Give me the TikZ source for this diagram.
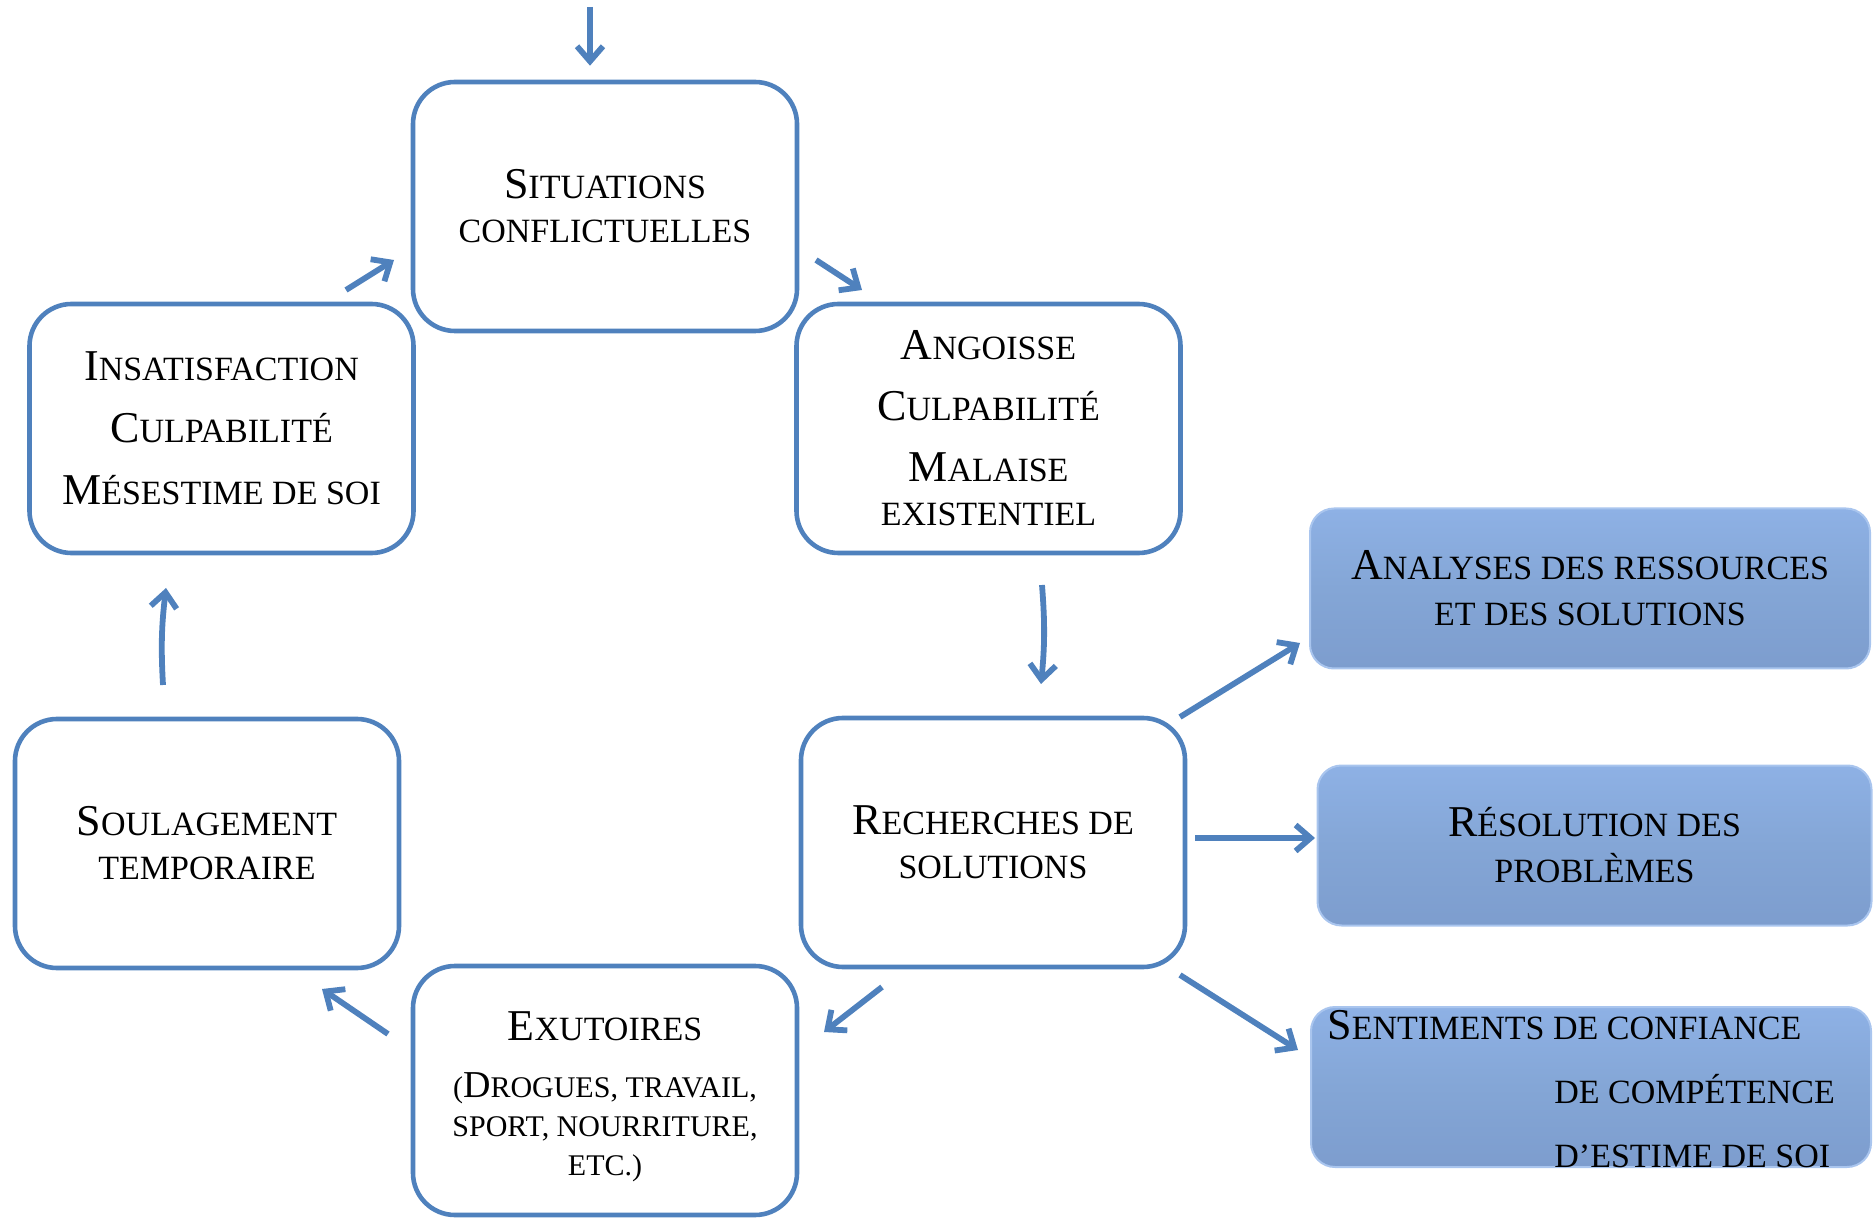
\documentclass[tikz,border=0pt]{standalone}
\usepackage{fontspec}
\setmainfont{Liberation Serif}
\usetikzlibrary{arrows.meta,calc}
\definecolor{ofblue}{HTML}{4F81BD}
\definecolor{bfill}{HTML}{84A6D6}
\definecolor{btop}{HTML}{8EB1E5}
\definecolor{bbot}{HTML}{7D9DCE}
\definecolor{bedge}{HTML}{A9C5EE}
\newcommand\Cap[1]{{\fontsize{22}{22}\selectfont #1}}
\newcommand\CapS[1]{{\fontsize{19}{19.5}\selectfont #1}}
\newcommand\Par[1]{{\fontsize{15}{19.5}\selectfont #1}}
\begin{document}
\begin{tikzpicture}[x=0.5pt,y=-0.5pt,
 wbox/.style={draw=ofblue, line width=2.3pt, fill=white, rounded corners=21pt,
   minimum width=192pt, minimum height=124.5pt, align=center,
   font=\fontsize{17}{22}\selectfont, inner sep=0pt},
 bbox/.style={draw=bedge, line width=1pt, top color=btop, bottom color=bbot, middle color=bfill,
   rounded corners=12pt, minimum width=280pt, minimum height=80pt, align=center,
   font=\fontsize{17}{23}\selectfont, inner sep=0pt},
 arr/.style={draw=ofblue, line width=2.9pt, -{Straight Barb[length=7.5pt,width=13pt]}}
]
\useasboundingbox (0,0) rectangle (1873,1218);

\node[wbox] (sit) at (605,206.5) {\Cap{S}ITUATIONS\\CONFLICTUELLES};
\node[wbox] (ang) at (988.5,428.5) {\Cap{A}NGOISSE\\[8.5pt]\Cap{C}ULPABILITÉ\\[8.5pt]\Cap{M}ALAISE\\EXISTENTIEL};
\node[wbox] (ins) at (221.5,428.5) {\Cap{I}NSATISFACTION\\[9pt]\Cap{C}ULPABILITÉ\\[9pt]\Cap{M}ÉSESTIME DE SOI};
\node[wbox] (soul) at (207,843.5) {\Cap{S}OULAGEMENT\\TEMPORAIRE};
\node[wbox] (rech) at (993,842.5) {\Cap{R}ECHERCHES DE\\SOLUTIONS};
\node[wbox] (exu) at (605,1090.5) {\rule{0pt}{20.5pt}\Cap{E}XUTOIRES\\[6.5pt]\Par{(\CapS{D}ROGUES, TRAVAIL,}\\[-2.5pt]\Par{SPORT, NOURRITURE,}\\[-2.5pt]\Par{ETC.)}};

\node[bbox] (ana) at (1590,588.5) {\Cap{A}NALYSES DES RESSOURCES\\ET DES SOLUTIONS};
\node[bbox, minimum width=277pt] (res) at (1594.5,845.5) {\Cap{R}ÉSOLUTION DES\\PROBLÈMES};
\node[bbox] (sent) at (1591,1087) {};
\node[anchor=west, align=left, font=\fontsize{17}{32}\selectfont, inner sep=0pt] (senttxt) at (1327,1089)
  {\Cap{S}ENTIMENTS DE CONFIANCE\\\hspace*{113.5pt}DE COMPÉTENCE\\\hspace*{113.5pt}D’ESTIME DE SOI};

\coordinate (in) at (590,7);
\draw[arr] (in) -- ($(sit.north)+(-15,-14)$);
\draw[arr] ($(sit)+(211,53.5)$) -- ($(ang)+(-126.5,-138.5)$);
\draw[arr] ($(ins)+(124.5,-138.5)$) -- ($(sit)+(-211,53.5)$);
\draw[arr] ($(ang)+(53.5,156.5)$) to[bend left=5] ($(rech)+(48,-158.5)$);
\draw[arr] ($(rech)+(-111,144.5)$) -- ($(exu)+(219,-58.5)$);
\draw[arr] ($(exu)+(-217,-56.5)$) -- ($(soul)+(115,145.5)$);
\draw[arr] ($(soul)+(-44,-158.5)$) to[bend left=5] ($(ins)+(-55.5,159.5)$);
\draw[arr] ($(rech)+(187,-125.5)$) -- ($(ana)+(-290,54.5)$);
\draw[arr] ($(rech)+(202,-4.5)$) -- ($(res)+(-279.5,-7.5)$);
\draw[arr] ($(rech)+(187,132.5)$) -- ($(sent)+(-293,-37)$);
\end{tikzpicture}
\end{document}
